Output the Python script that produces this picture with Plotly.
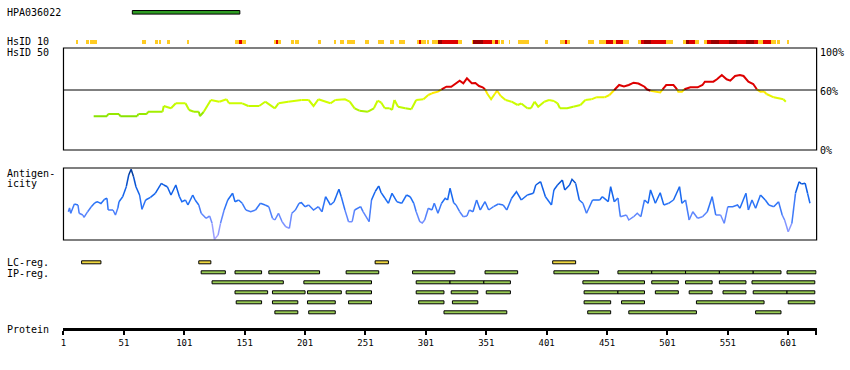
import plotly.graph_objects as go

W, H = 850, 370
PROT_LEN = 624

# ---------------- data ----------------
HPA_NAME = "HPA036022"
HPA_RANGE = (58, 147)

HSID10_START = [11, 20, 23, 66, 77, 80, 87, 103, 143, 146, 149, 175, 177, 179, 189, 193, 212, 225, 230, 236,
                251, 261, 271, 279, 294, 295, 297, 302, 306, 308, 311, 314, 328, 339, 340, 348, 356, 358, 361,
                363, 370, 377, 400, 412, 416, 418, 435, 444, 450, 456, 458, 464, 477, 479, 482, 487, 500,
                514, 516, 519, 524, 531, 534, 537, 544, 552, 559, 566, 573, 576, 580, 587, 592, 600]
HSID10_END = [13, 22, 29, 69, 79, 82, 89, 105, 146, 149, 152, 177, 179, 181, 192, 196, 214, 227, 233, 242,
              254, 266, 275, 284, 295, 297, 301, 304, 308, 311, 314, 328, 331, 340, 348, 356, 358, 361, 362,
              366, 371, 386, 402, 416, 418, 420, 440, 450, 456, 458, 464, 469, 479, 482, 487, 500, 506,
              516, 519, 524, 527, 534, 537, 544, 552, 559, 566, 573, 576, 580, 587, 591, 594, 602]
HSID10_LEVEL = [1, 1, 1, 1, 1, 1, 1, 1, 1, 2, 1, 1, 2, 1, 1, 1, 1, 1, 1, 1,
                1, 1, 1, 1, 1, 2, 1, 1, 1, 1, 3, 2, 1, 1, 3, 2, 1, 2, 1,
                1, 1, 1, 1, 1, 2, 1, 1, 1, 2, 1, 2, 1, 1, 2, 3, 2, 1,
                1, 3, 2, 1, 1, 2, 3, 2, 3, 2, 3, 2, 1, 2, 1, 1, 1]

HSID50_RES = [26, 37, 38, 47, 48, 62, 63, 70, 71, 83, 84, 90, 94, 102, 105, 109, 113, 114, 117, 123, 130, 136,
              138, 149, 154, 163, 168, 176, 179, 187, 198, 204, 208, 212, 222, 226, 234, 238, 242, 246, 253,
              258, 261, 264, 267, 271, 273, 275, 278, 284, 289, 293, 299, 303, 306, 311, 314, 318, 322, 325,
              329, 332, 335, 339, 342, 345, 348, 350, 352, 355, 358, 360, 363, 367, 372, 377, 380, 385, 388,
              391, 394, 399, 403, 407, 410, 412, 418, 423, 429, 433, 438, 442, 449, 453, 457, 461, 465, 469,
              473, 477, 482, 484, 487, 491, 495, 497, 500, 506, 509, 510, 513, 515, 520, 526, 530, 532, 539,
              542, 546, 550, 553, 557, 561, 564, 568, 572, 575, 578, 581, 583, 589, 597, 599]
HSID50_VAL = [33.7, 33.7, 36, 36, 33.7, 33.7, 36, 36, 38.3, 38.3, 44, 41.7, 46.7, 46.7, 40, 38.3, 38.3, 34, 38,
              50, 48.3, 50.7, 46.7, 46.7, 44, 44, 48.3, 41.7, 46.7, 48.3, 50, 50, 44, 50.7, 46.7, 50, 50.7,
              48.3, 41.7, 39.3, 38.3, 41.7, 49.3, 47.5, 41.7, 41.7, 40, 50, 43.3, 41.7, 40.7, 50, 50.7, 55,
              56.7, 58.3, 60.7, 63.3, 63.3, 66, 69.3, 66.7, 71.7, 66.7, 67, 64, 62.7, 60.7, 56, 50.7, 56,
              59.3, 54, 50, 48.3, 45, 46.5, 41.7, 41.7, 48.3, 43.3, 48.3, 50, 49, 46.7, 41.7, 41.7, 43.3,
              45, 50, 50.7, 52.7, 52.7, 55, 60, 65, 63.5, 65, 67.3, 66.5, 63.3, 60.7, 59.3, 58.3, 57.5,
              60.7, 65, 65, 60.7, 58.3, 58.3, 60.7, 62.7, 62.7, 65, 68.3, 68.3, 70.7, 75, 70.7, 69.3, 74,
              75, 74, 68.3, 66, 60.7, 58.3, 58.5, 56, 52.7, 50.7, 48.3]

ANTI_RES = [5, 6, 7, 10, 13, 14, 17, 18, 21, 24, 27, 29, 32, 35, 37, 38, 42, 44, 46, 47, 50, 53, 55, 57, 59,
            61, 64, 66, 69, 73, 77, 82, 84, 87, 90, 94, 97, 99, 102, 104, 108, 110, 113, 115, 119, 122,
            124, 126, 129, 131, 134, 137, 141, 143, 146, 149, 152, 156, 160, 164, 168, 171, 174, 176, 179,
            182, 185, 188, 190, 193, 196, 198, 201, 204, 208, 212, 215, 218, 222, 225, 229, 231, 234, 237,
            240, 242, 247, 249, 254, 256, 259, 262, 264, 267, 270, 273, 277, 281, 285, 288, 291, 293, 296,
            298, 300, 303, 306, 308, 311, 314, 317, 319, 321, 324, 326, 329, 332, 335, 337, 340, 343, 346,
            350, 353, 357, 361, 365, 368, 372, 376, 380, 385, 390, 392, 396, 400, 405, 407, 410, 414, 416,
            420, 422, 425, 428, 431, 434, 436, 439, 445, 447, 452, 454, 457, 460, 462, 467, 469, 473, 476,
            479, 482, 485, 487, 491, 495, 498, 502, 506, 511, 513, 516, 519, 522, 526, 530, 534, 538, 541,
            545, 548, 551, 555, 559, 561, 566, 568, 571, 574, 578, 582, 585, 589, 593, 596, 598, 601, 604,
            607, 610, 612, 615, 617, 619]
ANTI_VAL = [28.3, 32, 26.7, 36, 35, 26.7, 25, 22.7, 28.3, 33.3, 37.3, 38.3, 36.5, 40.7, 41.7, 30, 30, 25, 32,
            38.3, 43.3, 53.3, 65, 70.7, 63.3, 53.3, 45, 30.7, 40, 42.7, 46.7, 56.7, 55, 53.3, 45, 55, 43.3,
            38.3, 40, 35, 45, 40, 35, 26.7, 21.7, 24, 16.7, 0.7, 5, 16.7, 30, 40, 46.7, 38.3, 40, 36.7, 30,
            28.3, 30, 36.7, 35, 33.3, 21.7, 20, 26.7, 18.3, 13.3, 11.7, 26.7, 30, 36.7, 37.3, 33.3, 35, 30,
            33.3, 28.3, 43.3, 35, 38.3, 50.7, 43.3, 30, 18.3, 18.3, 30, 33.3, 28.3, 18.3, 40, 48.3, 54,
            47.3, 42, 36.7, 46.7, 38.3, 36.7, 45, 43.3, 36.7, 28.3, 18.3, 17, 20, 31.7, 30, 36.7, 26.7,
            36.7, 41.7, 40, 51.7, 37.3, 35, 28.3, 23.3, 24, 30, 28.3, 40, 30, 38.3, 30, 33.3, 36, 35, 30,
            41.7, 48.3, 40, 45, 46.7, 55, 58.3, 43.3, 35, 50, 55, 60, 50, 55, 60.7, 56.7, 40, 36.7, 26.7,
            32, 40, 40, 43.3, 38.3, 53.3, 38.3, 42, 23.3, 25, 20, 23.3, 26.7, 23.3, 40, 36.7, 50, 36.7,
            47.3, 35, 36.7, 40, 53.3, 36.7, 40, 20, 28.3, 21.7, 23.3, 28.3, 43.3, 25, 25, 16.7, 33.3,
            33.3, 35, 31.7, 46.7, 30, 40, 31.7, 45, 40, 35, 33.3, 38.3, 25, 20, 8.3, 16.7, 46.7, 58.3, 56,
            56.7, 46.7, 36.7]

LC_START = [16, 113, 259, 406]
LC_END = [32, 123, 270, 425]

IP_ROWS = [
    [(115, 135), (143, 165), (171, 213), (235, 262), (290, 325), (350, 377), (407, 444), (460, 488),
     (488, 516), (516, 544), (544, 572), (572, 595), (600, 624)],
    [(124, 183), (200, 256), (293, 321), (321, 349), (349, 371), (431, 482), (488, 510), (516, 538),
     (544, 566), (571, 623)],
    [(143, 170), (174, 201), (203, 231), (235, 256), (293, 316), (322, 344), (351, 371), (432, 460),
     (460, 482), (491, 510), (519, 538), (547, 566), (572, 600), (600, 623)],
    [(144, 165), (174, 195), (203, 226), (237, 256), (295, 316), (323, 344), (432, 454), (463, 482),
     (525, 581), (601, 623)],
    [(176, 195), (204, 226), (316, 368), (435, 454), (469, 525), (574, 595)],
]

TICK_VALS = [1, 51, 101, 151, 201, 251, 301, 351, 401, 451, 501, 551, 601]

# ---------------- helpers ----------------
FONT = "DejaVu Sans Mono"


def lerp_color(v, stops):
    if v <= stops[0][0]:
        c = stops[0][1]
    elif v >= stops[-1][0]:
        c = stops[-1][1]
    else:
        for (a, ca), (b, cb) in zip(stops[:-1], stops[1:]):
            if a <= v <= b:
                t = (v - a) / (b - a)
                c = tuple(ca[i] + (cb[i] - ca[i]) * t for i in range(3))
                break
    return "rgb(%d,%d,%d)" % tuple(int(round(x)) for x in c)


HS_STOPS = [(33, (130, 224, 0)), (42, (190, 250, 0)), (50, (212, 255, 0)), (58, (255, 232, 0))]


def hs_color(v):
    if v >= 60:
        return "#dd0000"
    return lerp_color(round(v), HS_STOPS)


AN_STOPS = [(0, (180, 170, 255)), (20, (110, 140, 255)), (40, (30, 110, 245)), (55, (10, 90, 225)),
            (70, (0, 55, 150))]


def an_color(v):
    return lerp_color(round(v / 2) * 2, AN_STOPS)


def colored_line(fig, xs, vs, colfn, yaxis, width):
    cur_col, cx, cy = None, [], []
    for i in range(len(xs) - 1):
        c = colfn((vs[i] + vs[i + 1]) / 2)
        if c != cur_col:
            if cx:
                fig.add_trace(go.Scatter(x=cx, y=cy, mode="lines", yaxis=yaxis, hoverinfo="skip",
                                         line=dict(color=cur_col, width=width)))
            cx, cy, cur_col = [xs[i]], [vs[i]], c
        cx.append(xs[i + 1])
        cy.append(vs[i + 1])
    if cx:
        fig.add_trace(go.Scatter(x=cx, y=cy, mode="lines", yaxis=yaxis, hoverinfo="skip",
                                 line=dict(color=cur_col, width=width)))


def bars(fig, starts, ends, ycenter, height, colors, border):
    fig.add_trace(go.Bar(
        orientation="h", base=starts, x=[e - s for s, e in zip(starts, ends)],
        y=[ycenter] * len(starts), width=height, yaxis="y", hoverinfo="skip",
        marker=dict(color=colors, line=dict(color="black", width=1 if border else 0))))


fig = go.Figure()

# HPA antigen
bars(fig, [HPA_RANGE[0]], [HPA_RANGE[1]], 12.3, 3.6, ["#2d9b22"], True)

# HsID 10
lvl_col = {1: "#ffcc22", 2: "#dd0000", 3: "#990000"}
bars(fig, HSID10_START, HSID10_END, 42.2, 4.3, [lvl_col[l] for l in HSID10_LEVEL], False)

# LC regions
bars(fig, LC_START, LC_END, 262.3, 3.0, ["#f0d840"] * len(LC_START), True)

# IP regions
for r, row in enumerate(IP_ROWS):
    bars(fig, [a for a, b in row], [b for a, b in row], 272.3 + 10 * r, 3.0, ["#99cc55"] * len(row), True)

# HsID 50 line
colored_line(fig, HSID50_RES, HSID50_VAL, hs_color, "y2", 2)
# Antigenicity line
colored_line(fig, ANTI_RES, ANTI_VAL, an_color, "y3", 1.5)

# frames
fig.add_shape(type="rect", xref="x domain", yref="y2 domain", x0=0, x1=1, y0=0, y1=1,
              line=dict(color="black", width=1.2))
fig.add_shape(type="line", xref="x domain", yref="y2", x0=0, x1=1, y0=60, y1=60,
              line=dict(color="black", width=1))
fig.add_shape(type="rect", xref="x domain", yref="y3 domain", x0=0, x1=1, y0=0, y1=1,
              line=dict(color="black", width=1.2))


def label(text, px, pyy, anchor="left"):
    fig.add_annotation(text=text, x=px / W, y=1 - pyy / H, xref="paper", yref="paper",
                       xanchor=anchor, yanchor="middle", showarrow=False, borderpad=0,
                       font=dict(family=FONT, size=10, color="black"))


label(HPA_NAME, 3, 13)
label("HsID 10", 3, 42)
label("HsID 50", 3, 53)
label("Antigen-", 3, 173)
label("icity", 3, 183)
label("LC-reg.", 3, 262.5)
label("IP-reg.", 3, 273)
label("Protein", 3, 329)
label("100%", 819, 52.5)
label("60%", 819, 91)
label("0%", 819, 150)

x0p, x1p = 60.7, 816.5
fig.update_layout(
    width=W, height=H, autosize=False, margin=dict(l=0, r=0, t=0, b=0, pad=0),
    paper_bgcolor="white", plot_bgcolor="rgba(0,0,0,0)", showlegend=False, barmode="overlay",
    bargap=0,
    xaxis=dict(domain=[x0p / W, x1p / W], range=[1, PROT_LEN + 0.5], anchor="free", position=1 - 329 / H,
               showline=True, linewidth=3, linecolor="black", ticks="outside", ticklen=4, tickwidth=2,
               tickcolor="black", tickvals=TICK_VALS + [PROT_LEN], ticktext=[str(t) for t in TICK_VALS] + [""],
               showgrid=False, zeroline=False, tickfont=dict(family=FONT, size=9, color="black")),
    yaxis=dict(domain=[0, 1], range=[H, 0], visible=False, anchor="x"),
    yaxis2=dict(domain=[1 - 150 / H, 1 - 48 / H], range=[0, 102], visible=False, anchor="x"),
    yaxis3=dict(domain=[1 - 240 / H, 1 - 168 / H], range=[0, 72], visible=False, anchor="x"),
)

fig.write_html("out.html", config={"displayModeBar": False, "staticPlot": True},
               post_script="document.body.style.margin='0';document.body.style.padding='0';")
